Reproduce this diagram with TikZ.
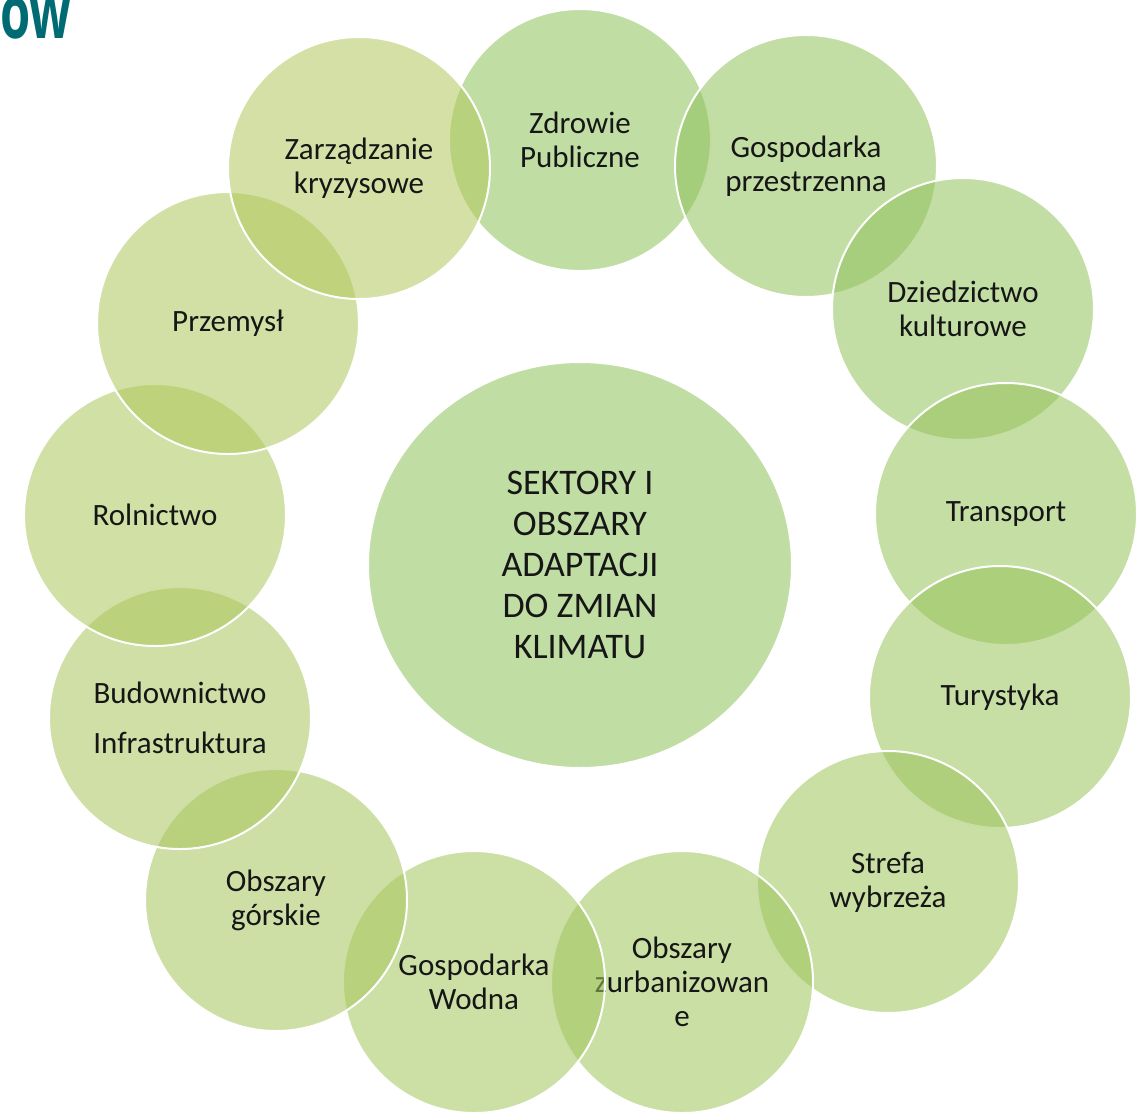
\documentclass[tikz,border=0pt]{standalone}
\usepackage{fontspec}
\setmainfont{Carlito}
\newfontfamily\headfont{Open Sans}
\usepackage{graphicx}
\usepackage{tikz}
\usetikzlibrary{shapes.geometric}

\definecolor{ringstart}{RGB}{140,193,90}
\definecolor{ringend}{RGB}{177,199,91}
\definecolor{headteal}{RGB}{0,107,115}
\definecolor{labelgrey}{RGB}{22,22,22}

\tikzset{
    sector/.style={circle, draw=white, line width=2pt, fill opacity=0.55, text opacity=1,
        minimum size=262pt, inner sep=0pt, align=center, text=labelgrey,
        font=\fontsize{31}{34}\selectfont},
    core/.style={ellipse, draw=white, line width=2pt, fill=ringstart, fill opacity=0.55,
        text opacity=1, minimum width=424pt, minimum height=406pt, inner sep=0pt,
        align=center, text=labelgrey, font=\fontsize{36}{41}\selectfont}
}

\begin{document}
\begin{tikzpicture}[x=1pt,y=-1pt]
    \useasboundingbox (0,0) rectangle (1140,1112);
    \node[anchor=base east, inner sep=0pt, text=headteal,
        font=\headfont\bfseries\fontsize{74}{74}\selectfont] (heading) at (72,38) {\scalebox{0.66}[1]{ow}};
    \node[core] (centre) at (580,565) {SEKTORY I\\OBSZARY\\ADAPTACJI\\DO ZMIAN\\KLIMATU};
    \foreach \px/\py/\txt [count=\i] in {
        580/140/{Zdrowie\\Publiczne},
        806/166/{Gospodarka\\przestrzenna},
        963/309/{Dziedzictwo\\kulturowe},
        1006/514/{Transport},
        1000/697/{Turystyka},
        888/882/{Strefa\\wybrzeża},
        682/982/{Obszary\\zurbanizowan\\e},
        474/982/{Gospodarka\\Wodna},
        276/900/{Obszary\\górskie},
        180/718/{Budownictwo\\[16pt]Infrastruktura},
        155/515/{Rolnictwo},
        228/323/{Przemysł},
        359/168/{Zarządzanie\\kryzysowe}%
    }{
        \pgfmathtruncatemacro{\mixpct}{100-(\i-1)*100/12}
        \node[sector, fill=ringstart!\mixpct!ringend] (sector\i) at (\px,\py) {\txt};
    }
\end{tikzpicture}
\end{document}
